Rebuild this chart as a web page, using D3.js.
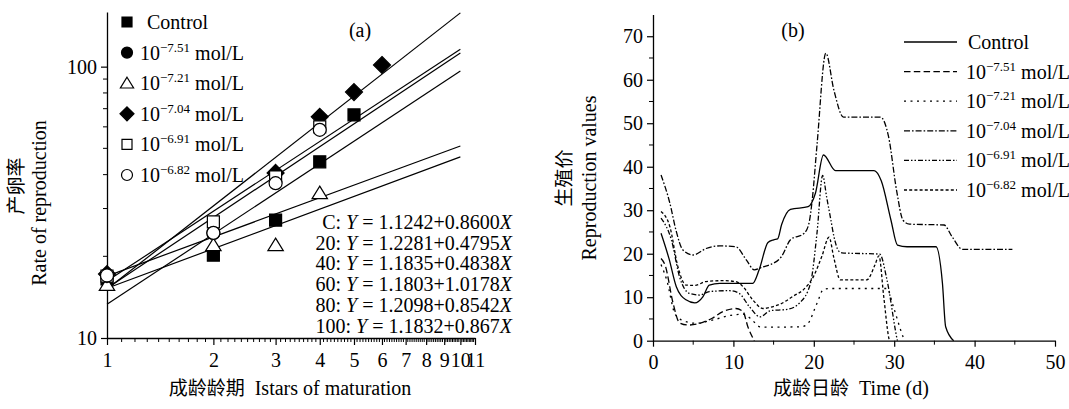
<!DOCTYPE html>
<html>
<head>
<meta charset="utf-8">
<script src="https://d3js.org/d3.v7.min.js"></script>
<style>
body{margin:0;background:#fff;}
svg text{font-family:"Liberation Serif","Times New Roman",serif;fill:#000;}
svg .cjk{font-family:"Noto Sans CJK SC",sans-serif;}
</style>
</head>
<body>
<svg id="chart" width="1069" height="409"></svg>
<script>
// ---- panel (a): rate of reproduction vs istar (log-log) ----
var istarTicks = [1,2,3,4,5,6,7,8,9,10,11];
var rateTicks = [10,100];
var rateMinor = [20,30,40,50,60,70,80,90];
var legendA = ["Control","10","10","10","10","10"];
var legendExp = ["","−7.51","−7.21","−7.04","−6.91","−6.82"];
var shapesA = ["square","circle","triangle","diamond","square","circle"];
var filledA = [true,true,false,true,false,false];
var ptsControl = [[1,16.5],[2,20.2],[3,27.2],[4,44.6],[5,66.4]];
var pts751 = [[1,17.0],[2,24.4]];
var pts721 = [[1,15.7],[2,22.0],[3,22.0],[4,34.2]];
var pts704 = [[1,17.2],[3,40.6],[4,65.3],[5,80.6],[6,101.4]];
var pts691 = [[1,16.9],[2,26.8],[3,39.2],[4,60.0]];
var pts682 = [[1,17.0],[2,24.4],[3,37.2],[4,58.5]];
var eqNames = ["C","20","40","60","80","100"];
var eqA = [1.1242,1.2281,1.1835,1.1803,1.2098,1.1832];
var eqB = [0.8600,0.4795,0.4838,1.0178,0.8542,0.867];
var eqBText = ["0.8600","0.4795","0.4838","1.0178","0.8542","0.867"];

// ---- panel (b): reproduction values vs time ----
var timeTicks = [0,10,20,30,40,50];
var valueTicks = [0,10,20,30,40,50,60,70];
var legendB = ["Control","10","10","10","10","10"];
var rvControl = [[1,24.7],[2,18.8],[2.9,12.4],[4.1,9.4],[5.2,8.7],[6.2,10.1],[7,12.8],[8.3,13.2],[12.4,13.2],[13.2,16.3],[14.3,22.6],[15,23.2],[15.5,23.4],[16,26.7],[17.1,30.2],[19.3,30.8],[20.2,33.9],[21.2,42.7],[22.7,39.1],[27.5,39.1],[28.4,36.7],[29.6,27.7],[30.4,22],[31.6,21.6],[35.2,21.6],[36,13.2],[36.4,3.2],[37.4,0]];
var rv751 = [[1,18.9],[1.5,17.4],[2.5,8.6],[3.3,4.1],[4.4,3.6],[5.8,4],[7.3,5.1],[8.7,6.7],[10.3,7.4],[11.2,6.7],[11.8,3.2],[12.6,0]];
var rv721 = [[1,17.5],[1.7,14],[2.7,6.3],[3.5,4.8],[5.4,4],[7.5,4.8],[9.9,5.9],[11.2,6.1],[12.2,5],[13.3,3.2],[14.5,3.1],[18.3,3.2],[19.1,3.6],[20.4,8.6],[21.2,11.8],[22,12],[29.1,12],[29.9,7.8],[31.1,0.9],[31.3,0]];
var rv704 = [[1,38.1],[2.1,31.6],[2.9,25.1],[3.7,20.9],[5,19.7],[6.6,21.2],[8.3,21.8],[10.3,21.6],[11.6,18.6],[12.6,16.3],[13.7,17],[14.6,17.5],[16,19.4],[17.1,23.2],[18.8,24.7],[19.4,27],[19.8,32.3],[20.4,45],[21.5,66.1],[22.5,57.6],[23.7,51.4],[28.3,51.4],[29.3,46.9],[30.3,34.5],[31.1,27.7],[31.9,26.8],[36.2,26.6],[37.2,23.9],[38.5,21],[44.7,21]];
var rv691 = [[1,28.2],[2.3,23.1],[3.3,14.7],[4.5,10.9],[5.8,10.5],[7,11.3],[9.5,11.5],[10.7,10.9],[12,7.8],[13.3,5.5],[14.6,6.9],[16.7,7.2],[18.3,8.8],[19.6,13.3],[20.4,24.8],[21.1,38],[21.6,33],[22.1,28],[22.5,24],[23.1,20.6],[23.5,20.2],[28.2,19.9],[29.1,14],[30.3,0.9],[30.4,0]];
var rv682 = [[1,29.7],[2.1,26.2],[3.1,17],[4.1,12.8],[5.2,12.7],[6.6,13.6],[8.7,13.8],[10.3,13.6],[11.2,12.4],[12.4,9.4],[13.7,7.4],[14.4,7.6],[15.8,8.4],[17.5,10.3],[18.75,11.8],[20,14.9],[21,19.4],[21.9,23.8],[22.5,19],[23.3,14],[26.6,14],[27.6,17.4],[28.1,19.5],[28.7,10.1],[29.3,0.9],[29.4,0]];
var dashesB = [null,"6.5,3.3","2,4.5","6,2,1.6,2","5,2,1.5,2,1.5,2","3,2.2"];

var svg = d3.select("#chart");
var FS = 20;

// symbol path, s = full size in px
function shape(type, s){
	var h = s/2;
	if (type == "square") return "M"+(-h)+","+(-h)+"h"+s+"v"+s+"h"+(-s)+"Z";
	if (type == "circle") return "M"+h+",0A"+h+","+h+" 0 1,1 "+(-h)+",0A"+h+","+h+" 0 1,1 "+h+",0Z";
	if (type == "diamond") return "M0,"+(-h)+"L"+h+",0L0,"+h+"L"+(-h)+",0Z";
	// triangle
	return "M0,"+(-h)+"L"+(h*1.1)+","+(h*0.8)+"L"+(-h*1.1)+","+(h*0.8)+"Z";
}
function styleAxis(g){
	g.attr("font-size", FS).attr("font-family", null);
	g.selectAll("path.domain").attr("stroke-width", 1.3);
	g.selectAll(".tick line").attr("stroke-width", 1.2);
}

/* ================= panel (a) ================= */
var xa = d3.scaleLog().domain([1,11]).range([107,475]);
var ya = d3.scaleLog().domain([10,159]).range([338,12]);

var gxa = svg.append("g").attr("transform","translate(0,338)")
	.call(d3.axisBottom(xa).tickValues(istarTicks).tickSize(7).tickSizeOuter(0).tickPadding(8).tickFormat(d3.format("d")));
styleAxis(gxa);
// minor ticks of the log axis
var minorX = [];
for (var v = 1.1; v < 11; v += 0.1) {
	var r = Math.round(v*10)/10;
	if (istarTicks.indexOf(r) < 0) minorX.push(r);
}
svg.append("g").selectAll("line").data(minorX).enter().append("line")
	.attr("x1", function(d){ return xa(d); }).attr("x2", function(d){ return xa(d); })
	.attr("y1", 338).attr("y2", 342).attr("stroke","#000").attr("stroke-width",1);

var gya = svg.append("g").attr("transform","translate(107,0)")
	.call(d3.axisLeft(ya).tickValues(rateTicks).tickSize(6).tickSizeOuter(0).tickPadding(4).tickFormat(d3.format("d")));
styleAxis(gya);
svg.append("g").selectAll("line").data(rateMinor).enter().append("line")
	.attr("x1", 103).attr("x2", 107)
	.attr("y1", function(d){ return ya(d); }).attr("y2", function(d){ return ya(d); })
	.attr("stroke","#000").attr("stroke-width",1);

// regression lines Y = a + bX (log10 both sides), drawn for istar 1..10
var regs = svg.append("g");
eqA.forEach(function(a, i){
	var f = function(x){ return Math.pow(10, a + eqB[i]*Math.log10(x)); };
	regs.append("line")
		.attr("x1", xa(1)).attr("y1", ya(f(1)))
		.attr("x2", xa(10)).attr("y2", ya(f(10)))
		.attr("stroke","#000").attr("stroke-width",1.2);
});

var ptsA = [ptsControl, pts751, pts721, pts704, pts691, pts682];
var symSize = {square:12, circle:13, triangle:14, diamond:17};
ptsA.forEach(function(pts, i){
	svg.append("g").selectAll("path").data(pts).enter().append("path")
		.attr("transform", function(d){ return "translate(" + xa(d[0]) + "," + ya(d[1]) + ")"; })
		.attr("d", shape(shapesA[i], symSize[shapesA[i]]))
		.attr("fill", filledA[i] ? "#000" : "#fff")
		.attr("stroke","#000").attr("stroke-width",1.2);
});

// legend (a)
var legSize = {square:10, circle:11, triangle:12, diamond:14};
legendA.forEach(function(t, i){
	var cy = 22 + i*30.6;
	svg.append("path").attr("transform","translate(127," + cy + ")")
		.attr("d", shape(shapesA[i], legSize[shapesA[i]]))
		.attr("fill", filledA[i] ? "#000" : "#fff").attr("stroke","#000").attr("stroke-width",1.2);
	var tx = svg.append("text").attr("x", i == 0 ? 147 : 140).attr("y", cy + 7).attr("font-size", FS);
	tx.append("tspan").text(t);
	if (legendExp[i]) {
		tx.append("tspan").attr("dy", -8).attr("font-size", 13).text(legendExp[i]);
		tx.append("tspan").attr("dy", 8).text(" mol/L");
	}
});

// equations
eqNames.forEach(function(n, i){
	var tx = svg.append("text").attr("x", 512).attr("y", 229 + i*20.7)
		.attr("text-anchor","end").attr("font-size", FS);
	tx.append("tspan").text(n + ": ");
	tx.append("tspan").attr("font-style","italic").text("Y");
	tx.append("tspan").text(" = " + eqA[i].toFixed(4) + "+" + eqBText[i]);
	tx.append("tspan").attr("font-style","italic").text("X");
});

svg.append("text").attr("x", 360).attr("y", 37).attr("text-anchor","middle").attr("font-size", FS).text("(a)");

// axis titles (a)
svg.append("text").attr("class","cjk").attr("transform","translate(23,186) rotate(-90)")
	.attr("text-anchor","middle").attr("font-size", 19).text("产卵率");
svg.append("text").attr("transform","translate(46,203) rotate(-90)")
	.attr("text-anchor","middle").attr("font-size", FS).text("Rate of reproduction");
var xt = svg.append("text").attr("x", 290).attr("y", 395).attr("text-anchor","middle").attr("font-size", FS);
xt.append("tspan").attr("class","cjk").attr("font-size",19).text("成龄龄期");
xt.append("tspan").text("\u00a0\u00a0Istars of maturation");

/* ================= panel (b) ================= */
var xb = d3.scaleLinear().domain([0,50]).range([653,1055]);
var yb = d3.scaleLinear().domain([0,75]).range([340.7,14.5]);

var gxb = svg.append("g").attr("transform","translate(0,340.7)")
	.call(d3.axisBottom(xb).tickValues(timeTicks).tickSize(6).tickSizeOuter(0).tickPadding(8));
styleAxis(gxb);
svg.append("g").selectAll("line").data([5,15,25,35,45]).enter().append("line")
	.attr("x1", function(d){ return xb(d); }).attr("x2", function(d){ return xb(d); })
	.attr("y1", 340.7).attr("y2", 344.7).attr("stroke","#000").attr("stroke-width",1);

var gyb = svg.append("g").attr("transform","translate(653,0)")
	.call(d3.axisLeft(yb).tickValues(valueTicks).tickSize(6).tickSizeOuter(0).tickPadding(4));
styleAxis(gyb);
svg.append("g").selectAll("line").data([5,15,25,35,45,55,65]).enter().append("line")
	.attr("x1", 649).attr("x2", 653)
	.attr("y1", function(d){ return yb(d); }).attr("y2", function(d){ return yb(d); })
	.attr("stroke","#000").attr("stroke-width",1);

var line = d3.line().x(function(d){ return xb(d[0]); }).y(function(d){ return yb(d[1]); })
	.curve(d3.curveMonotoneX);
var rvSeries = [rvControl, rv751, rv721, rv704, rv691, rv682];
rvSeries.forEach(function(s, i){
	svg.append("path").datum(s).attr("d", line)
		.attr("fill","none").attr("stroke","#000").attr("stroke-width",1.3)
		.attr("stroke-dasharray", dashesB[i]);
});

// legend (b)
legendB.forEach(function(t, i){
	var cy = 42 + i*29.6;
	svg.append("line").attr("x1", 904).attr("x2", 957).attr("y1", cy).attr("y2", cy)
		.attr("stroke","#000").attr("stroke-width",1.3).attr("stroke-dasharray", dashesB[i]);
	var tx = svg.append("text").attr("x", i == 0 ? 968 : 966).attr("y", cy + 7).attr("font-size", FS);
	tx.append("tspan").text(t);
	if (legendExp[i]) {
		tx.append("tspan").attr("dy", -8).attr("font-size", 13).text(legendExp[i]);
		tx.append("tspan").attr("dy", 8).text(" mol/L");
	}
});

svg.append("text").attr("x", 793).attr("y", 37).attr("text-anchor","middle").attr("font-size", FS).text("(b)");

svg.append("text").attr("class","cjk").attr("transform","translate(571,178) rotate(-90)")
	.attr("text-anchor","middle").attr("font-size", 19).text("生殖价");
svg.append("text").attr("transform","translate(596,178) rotate(-90)")
	.attr("text-anchor","middle").attr("font-size", FS).text("Reproduction values");
var xt2 = svg.append("text").attr("x", 851).attr("y", 395).attr("text-anchor","middle").attr("font-size", FS);
xt2.append("tspan").attr("class","cjk").attr("font-size",19).text("成龄日龄");
xt2.append("tspan").text("\u00a0\u00a0Time (d)");
</script>
</body>
</html>
